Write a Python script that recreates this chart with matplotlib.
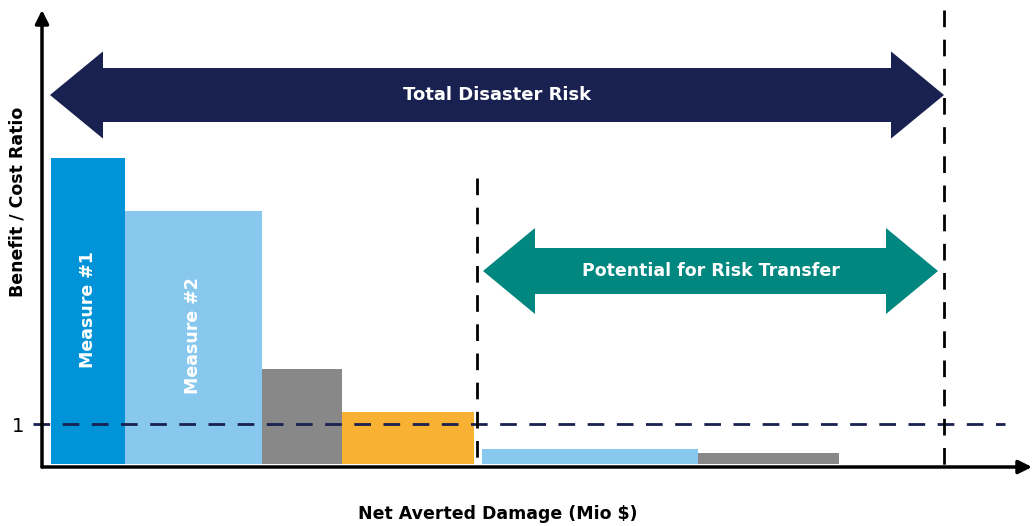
import matplotlib.pyplot as plt
import matplotlib.patches as mpatches

# cost curve data: bar widths (net averted damage) and heights (benefit/cost ratio)
bar_widths = [7.4, 13.7, 8.0, 13.2, 21.6, 14.1]
bar_ratios = [7.65, 6.33, 2.38, 1.30, 0.38, 0.28]
bar_gaps = [0, 0, 0, 0, 0.8, 0]
bar_colors = ['#0093d8', '#88c8ee', '#888888', '#f8b133', '#88c8ee', '#888888']
bar_labels = ['Measure #1', 'Measure #2', '', '', '', '']
label_heights = [3.85, 3.2, 0, 0, 0, 0]

total_risk = 89.3
transfer_start = 42.6
break_even = 1

navy = '#18214f'
teal = '#00877f'

plt.rcParams['font.family'] = ['DejaVu Sans']

fig = plt.figure(figsize=(10.32, 5.26), dpi=100)
ax = fig.add_axes([42/1032, (526-467)/526, 990/1032, 457/526])
ax.set_xlim(-0.9, 98.1)
ax.set_ylim(-0.075, 11.35)

# bars
left = 0
for w, h, g, c, lab, lh in zip(bar_widths, bar_ratios, bar_gaps, bar_colors,
                                bar_labels, label_heights):
    left += g
    ax.bar(left, h, width=w, align='edge', color=c, linewidth=0)
    if lab:
        ax.text(left + w/2, lh, lab, rotation=90, color='white', fontsize=12.5,
                fontweight='bold', ha='center', va='center')
    left += w

# break-even line
ax.plot([-1.8, 95.4], [break_even, break_even], color=navy, lw=2,
        dashes=(6, 4.5), clip_on=False)

# vertical dashed lines (drawn top-down so the dash pattern starts at the top)
ax.plot([transfer_start, transfer_start], [7.15, -0.075], color='black', lw=2,
        dashes=(6, 4.5))
ax.plot([total_risk, total_risk], [11.35, -0.075], color='black', lw=2,
        dashes=(6, 4.5))


def double_arrow(x0, x1, y, width, head_width, head_length, color, label, size):
    bw, hw = width / 2, head_width / 2
    pts = [(x0, y), (x0 + head_length, y + hw), (x0 + head_length, y + bw),
           (x1 - head_length, y + bw), (x1 - head_length, y + hw), (x1, y),
           (x1 - head_length, y - hw), (x1 - head_length, y - bw),
           (x0 + head_length, y - bw), (x0 + head_length, y - hw)]
    ax.add_patch(mpatches.Polygon(pts, closed=True, color=color, lw=0))
    ax.text((x0 + x1) / 2, y, label, color='white', fontsize=size, fontweight='bold',
            ha='center', va='center')


double_arrow(-0.1, total_risk, 9.225, 1.35, 2.18, 5.3, navy, 'Total Disaster Risk', 13)
double_arrow(43.2, 88.7, 4.825, 1.15, 2.15, 5.2, teal, 'Potential for Risk Transfer', 12.5)

# axes with arrows
for s in ax.spines.values():
    s.set_visible(False)
ax.annotate('', xy=(0, 1.0), xytext=(0, 0), xycoords='axes fraction',
            arrowprops=dict(arrowstyle='-|>', color='black', lw=2.5, mutation_scale=20,
                            shrinkA=0, shrinkB=0))
ax.annotate('', xy=(1.0, 0), xytext=(0, 0), xycoords='axes fraction',
            arrowprops=dict(arrowstyle='-|>', color='black', lw=2.5, mutation_scale=20,
                            shrinkA=0, shrinkB=0))

ax.set_xticks([])
ax.set_yticks([break_even])
ax.set_yticklabels(['1'], fontsize=14)
ax.tick_params(axis='y', length=0, pad=13)

ax.set_ylabel('Benefit / Cost Ratio', fontsize=12.5, fontweight='bold')
ax.yaxis.set_label_coords(-0.016, 0.58)
ax.set_xlabel('Net Averted Damage (Mio $)', fontsize=12.5, fontweight='bold')
ax.xaxis.set_label_coords(0.46, -0.083)

fig.savefig('out.png', dpi=100)
